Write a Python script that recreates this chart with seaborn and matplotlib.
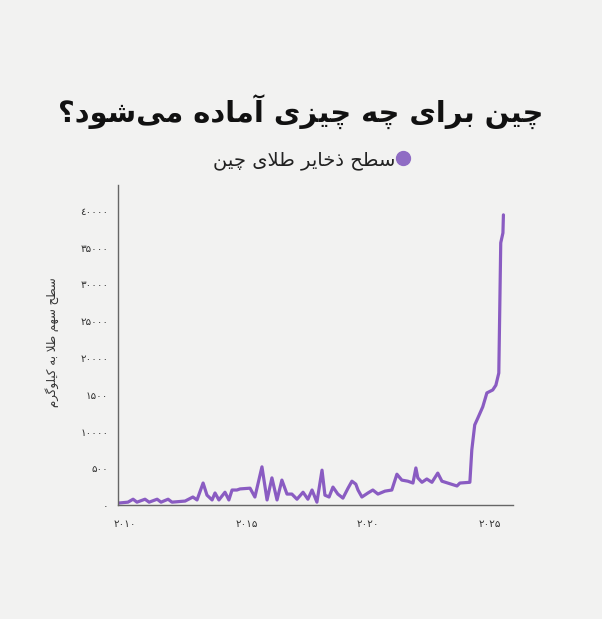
import pandas as pd
import seaborn as sns
import matplotlib.pyplot as plt
from matplotlib.lines import Line2D

# gold reserve line (decimal year, kg)
years = [2009.71, 2010.12, 2010.33, 2010.49, 2010.82, 2010.99, 2011.32, 2011.48, 2011.77, 2011.93,
         2012.47, 2012.79, 2012.96, 2013.21, 2013.37, 2013.58, 2013.70, 2013.86, 2014.11, 2014.27,
         2014.40, 2014.60, 2014.73, 2015.14, 2015.34, 2015.63, 2015.84, 2016.04, 2016.25, 2016.45,
         2016.66, 2016.86, 2017.07, 2017.32, 2017.52, 2017.69, 2017.89, 2018.10, 2018.22, 2018.39,
         2018.55, 2018.75, 2018.96, 2019.17, 2019.33, 2019.49, 2019.58, 2019.74, 2019.99, 2020.19,
         2020.40, 2020.69, 2020.97, 2021.18, 2021.38, 2021.63, 2021.84, 2021.96, 2022.04, 2022.21,
         2022.41, 2022.62, 2022.86, 2023.03, 2023.27, 2023.65, 2023.77, 2024.18, 2024.26, 2024.38,
         2024.51, 2024.71, 2024.88, 2025.12, 2025.25, 2025.37, 2025.45, 2025.54, 2025.56]
reserves = [270, 400, 800, 400, 800, 400, 800, 400, 800, 400,
            550, 1100, 700, 3000, 1350, 700, 1650, 700, 1750, 700,
            2050, 2050, 2200, 2300, 1100, 5200, 700, 3700, 700, 3400,
            1500, 1500, 800, 1750, 800, 2050, 400, 4750, 1350, 1100,
            2450, 1500, 950, 2300, 3250, 2850, 2050, 1100, 1650, 2050,
            1500, 1900, 2050, 4200, 3400, 3250, 3000, 5050, 3700, 3100,
            3550, 3100, 4350, 3250, 3000, 2600, 3000, 3100, 7500, 10900,
            11850, 13350, 15250, 15650, 16300, 17950, 35650, 37000, 39450]

x_ticks = [2010, 2015, 2020, 2025]
x_labels = ["۲۰۱۰", "۲۰۱۵", "۲۰۲۰", "۲۰۲۵"]
y_ticks = [0, 5000, 10000, 15000, 20000, 25000, 30000, 35000, 40000]
y_labels = ["۰", "۵۰۰", "۱۰۰۰۰", "۱۵۰۰", "۲۰۰۰۰", "۲۵۰۰۰", "۳۰۰۰۰", "۳۵۰۰۰", "٤۰۰۰۰"]

title = "چین برای چه چیزی آماده می‌شود؟"
series_name = "سطح ذخایر طلای چین"
y_title = "سطح سهم طلا به کیلوگرم"

# matplotlib has no arabic shaping, so pick presentation forms by hand
FORMS = {
    "ا": ("\ufe8d", "\ufe8e"), "آ": ("\ufe81", "\ufe82"), "د": ("\ufea9", "\ufeaa"),
    "ذ": ("\ufeab", "\ufeac"), "ر": ("\ufead", "\ufeae"), "ز": ("\ufeaf", "\ufeb0"),
    "و": ("\ufeed", "\ufeee"),
    "ب": ("\ufe8f", "\ufe90", "\ufe91", "\ufe92"), "ح": ("\ufea1", "\ufea2", "\ufea3", "\ufea4"),
    "خ": ("\ufea5", "\ufea6", "\ufea7", "\ufea8"), "س": ("\ufeb1", "\ufeb2", "\ufeb3", "\ufeb4"),
    "ش": ("\ufeb5", "\ufeb6", "\ufeb7", "\ufeb8"), "ط": ("\ufec1", "\ufec2", "\ufec3", "\ufec4"),
    "ل": ("\ufedd", "\ufede", "\ufedf", "\ufee0"), "م": ("\ufee1", "\ufee2", "\ufee3", "\ufee4"),
    "ن": ("\ufee5", "\ufee6", "\ufee7", "\ufee8"), "ه": ("\ufee9", "\ufeea", "\ufeeb", "\ufeec"),
    "چ": ("\ufb7a", "\ufb7b", "\ufb7c", "\ufb7d"), "ک": ("\ufb8e", "\ufb8f", "\ufb90", "\ufb91"),
    "گ": ("\ufb92", "\ufb93", "\ufb94", "\ufb95"), "ی": ("\ufbfc", "\ufbfd", "\ufbfe", "\ufbff"),
}
LAM_ALEF = {"ا": ("\ufefb", "\ufefc"), "آ": ("\ufef5", "\ufef6")}


def shape(text):
    out = []
    i = 0
    while i < len(text):
        c = text[i]
        prev = text[i - 1] if i > 0 else ""
        joins_prev = prev in FORMS and len(FORMS[prev]) == 4
        nxt = text[i + 1] if i + 1 < len(text) else ""
        if c == "ل" and nxt in LAM_ALEF:
            out.append(LAM_ALEF[nxt][1 if joins_prev else 0])
            i += 2
            continue
        if c in FORMS:
            f = FORMS[c]
            joins_next = len(f) == 4 and nxt in FORMS
            if joins_prev and joins_next:
                out.append(f[3])
            elif joins_prev:
                out.append(f[1])
            elif joins_next:
                out.append(f[2])
            else:
                out.append(f[0])
        elif c != "\u200c":
            out.append(c)
        i += 1
    return "".join(reversed(out))


df = pd.DataFrame({"year": years, "reserves": reserves})

sns.set_theme(style="white")
plt.rcParams["font.family"] = ["DejaVu Sans"]

purple = "#8a5cc2"
bg = "#f2f2f1"

fig = plt.figure(figsize=(6.02, 6.19), dpi=100, facecolor=bg)
ax = fig.add_axes([0.196, 0.184, 0.656, 0.517])
ax.set_facecolor(bg)

sns.lineplot(data=df, x="year", y="reserves", ax=ax, color=purple, linewidth=2.3)

ax.set_xlim(2009.71, 2025.95)
ax.set_ylim(0, 43500)
ax.set_xticks(x_ticks, x_labels)
ax.set_yticks(y_ticks, y_labels)
ax.tick_params(axis="both", length=0, labelsize=7.5, colors="#333333")
ax.tick_params(axis="x", pad=10)
ax.tick_params(axis="y", pad=7)
ax.set(xlabel=None, ylabel=None)
for side in ["top", "right"]:
    ax.spines[side].set_visible(False)
for side in ["left", "bottom"]:
    ax.spines[side].set_color("#666666")
    ax.spines[side].set_linewidth(1.0)

fig.text(0.5, 0.818, shape(title), ha="center", va="center",
         fontsize=20.8, fontweight="bold", color="#111111")
fig.text(0.087, 0.447, shape(y_title), rotation=90, ha="center", va="center",
         fontsize=8.5, color="#333333")

handle = Line2D([], [], marker="o", linestyle="", color="#8f6cc4", markersize=10)
fig.legend([handle], [shape(series_name)], loc="center", bbox_to_anchor=(0.518, 0.742),
           markerfirst=False, frameon=False, handletextpad=0.0, handlelength=0.8,
           fontsize=14, labelcolor="#222222")

fig.savefig("out.png", dpi=100, facecolor=bg)
